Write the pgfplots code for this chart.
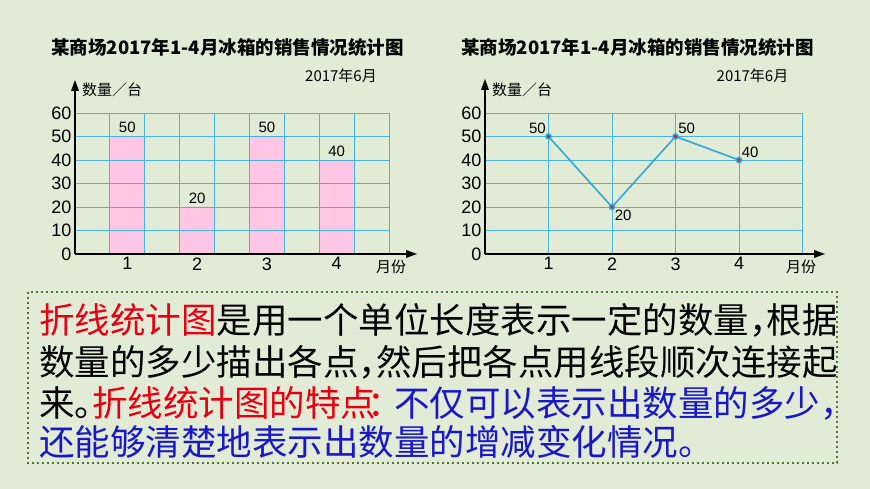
\documentclass[border=0pt]{standalone}
\usepackage{pgfplots}
\pgfplotsset{compat=1.18}
\usepackage{pgfplotstable}
\usepackage{fontspec}
\setmainfont{Liberation Sans}
\newfontfamily\cjk{Noto Sans CJK SC}

\definecolor{bg}{HTML}{E2EBD6}
\definecolor{gridc}{HTML}{45B4E2}
\definecolor{barpink}{HTML}{FFC6E6}
\definecolor{linec}{HTML}{2FA8D8}
\definecolor{dotred}{HTML}{D21E2A}
\definecolor{boxc}{HTML}{4A7636}
\definecolor{tred}{HTML}{E60012}
\definecolor{tblue}{HTML}{1818C8}

% 冰箱销售数据（台）
\pgfplotstableread{
x y
1.5 50
3.5 20
5.5 50
7.5 40
}\bardata

\pgfplotstableread{
x y
1 50
2 20
3 50
4 40
}\linedata

\pgfplotsset{
  chart/.style={
    scale only axis, height=141pt, clip=false,
    ymin=0, ymax=60, ytick={0,10,...,60},
    axis lines=left,
    axis line style={black, line width=1.2pt, -},
    major tick length=0pt, minor tick length=0pt,
    ymajorgrids,
    grid style={gridc, line width=0.9pt},
    minor grid style={gridc, line width=0.9pt},
    /pgf/number format/assume math mode=true,
    tick label style={font=\fontsize{18}{18}\selectfont},
    nodes near coords style={font=\fontsize{15}{15}\selectfont, text=black},
  },
}

\XeTeXlinebreaklocale "zh"
\XeTeXlinebreakskip=0pt plus 1pt

\newcommand\hw[1]{\makebox[0.5em][l]{#1}}
\newcommand\hc[1]{\makebox[0.5em][c]{#1}}

\begin{document}
\begin{tikzpicture}[x=1pt,y=1pt]
\fill[bg] (0,0) rectangle (870,489);

% ---- 条形统计图 ----
\begin{axis}[chart, at={(75pt,235pt)}, anchor=south west, width=314pt,
    xmin=0, xmax=9,
    xtick={1.5,3.5,5.5,7.5}, xticklabels={1,2,3,4},
    minor xtick={1,...,9}, xminorgrids,
    axis on top,
    ybar, bar width=1, nodes near coords]
  \addplot[fill=barpink, draw=none] table[x=x, y=y] {\bardata};
\end{axis}

% ---- 折线统计图 ----
\begin{axis}[chart, at={(485pt,235pt)}, anchor=south west, width=317.5pt,
    xmin=0, xmax=5,
    xtick={1,...,5}, xticklabels={1,2,3,4,{}},
    xmajorgrids]
  \addplot[linec, line width=1.6pt, mark=*, mark size=2.5pt,
      mark options={fill=dotred, draw=none},
      nodes near coords,
      nodes near coords style={inner sep=2pt},
      coordinate style/.condition={\coordindex==0}{anchor=south east},
      coordinate style/.condition={\coordindex==1}{anchor=north west},
      coordinate style/.condition={\coordindex>1}{anchor=south west}]
    table[x=x, y=y] {\linedata};
\end{axis}

% ---- 坐标轴箭头 ----
\begin{scope}[black, line width=1.2pt]
\draw (75,235) -- (75,400);
\draw (75,235) -- (408,235);
\fill (75,409) -- (71,398) -- (79,398) -- cycle;
\fill (417,235) -- (406,231) -- (406,239) -- cycle;
\draw (485,235) -- (485,401);
\draw (485,235) -- (816,235);
\fill (485,410) -- (481,399) -- (489,399) -- cycle;
\fill (825,235) -- (814,231) -- (814,239) -- cycle;
\end{scope}

% ---- 标题与标注 ----
\begin{scope}[font=\cjk]
\node[font=\cjk\bfseries\fontsize{18.5}{20}\selectfont] at (227.5,442) {某商场2017年1-4月冰箱的销售情况统计图};
\node[font=\cjk\bfseries\fontsize{18.5}{20}\selectfont] at (637.5,442) {某商场2017年1-4月冰箱的销售情况统计图};
\node[font=\cjk\fontsize{15}{16}\selectfont] at (341,413) {2017年6月};
\node[font=\cjk\fontsize{15}{16}\selectfont] at (752.5,413) {2017年6月};
\node[font=\cjk\fontsize{15}{16}\selectfont] at (112,399) {数量／台};
\node[font=\cjk\fontsize{15}{16}\selectfont] at (522,399) {数量／台};
\node[font=\cjk\fontsize{15}{16}\selectfont] at (391,222) {月份};
\node[font=\cjk\fontsize{15}{16}\selectfont] at (801,222) {月份};
\end{scope}

% ---- 说明文字 ----
\draw[boxc, line width=2.4pt, dash pattern=on 2.4pt off 2.6pt] (28,197) rectangle (837,26);
\begin{scope}[every node/.style={anchor=base west, inner sep=0pt,
    font=\cjk\fontsize{35.5}{36}\selectfont}]
\node at (39,155.5) {\hbox to 811pt{\textcolor{tred}{折线统计图}是用一个单位长度表示一定的数量\hw{，}根据}};
\node at (39,113.8) {\hbox to 811pt{数量的多少描出各点\hw{，}然后把各点用线段顺次连接起}};
\node at (39,72.5) {\hbox to 811pt{来\hw{。}\textcolor{tred}{折线统计图的特点\hc{：}}\textcolor{tblue}{不仅可以表示出数量的多少\hw{，}}}};
\node at (39,33.8) {\textcolor{tblue}{还能够清楚地表示出数量的增减变化情况\hw{。}}};
\end{scope}
\end{tikzpicture}
\end{document}
